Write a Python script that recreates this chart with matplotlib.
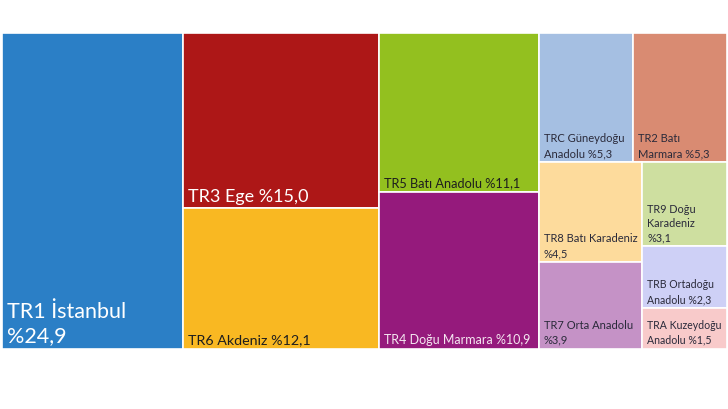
import matplotlib
matplotlib.use("Agg")
import matplotlib.pyplot as plt
from matplotlib.patches import Rectangle

# ---- data ----
regions = ["TR1 İstanbul", "TR3 Ege", "TR6 Akdeniz", "TR5 Batı Anadolu",
           "TR4 Doğu Marmara", "TRC Güneydoğu Anadolu", "TR2 Batı Marmara",
           "TR8 Batı Karadeniz", "TR7 Orta Anadolu", "TR9 Doğu Karadeniz",
           "TRB Ortadoğu Anadolu", "TRA Kuzeydoğu Anadolu"]
shares = [24.9, 15.0, 12.1, 11.1, 10.9, 5.3, 5.3, 4.5, 3.9, 3.1, 2.3, 1.5]
labels = ["TR1 İstanbul\n%24,9", "TR3 Ege %15,0", "TR6 Akdeniz %12,1",
          "TR5 Batı Anadolu %11,1", "TR4 Doğu Marmara %10,9",
          "TRC Güneydoğu\nAnadolu %5,3", "TR2 Batı\nMarmara %5,3",
          "TR8 Batı Karadeniz\n%4,5", "TR7 Orta Anadolu\n%3,9",
          "TR9 Doğu\nKaradeniz\n%3,1", "TRB Ortadoğu\nAnadolu %2,3",
          "TRA Kuzeydoğu\nAnadolu %1,5"]
colors = ["#2B7FC6", "#AD1717", "#F9B822", "#93C01F", "#951A7C",
          "#A5BFE2", "#D98B72", "#FDDB9C", "#C592C6", "#CEDFA0",
          "#CED0F6", "#F8CACA"]
text_colors = ["white", "white", "#1e1e1e", "#1e1e1e", "#f4e6f0",
               "#2a2a3a", "#2a2a3a", "#2a2a3a", "#2a2a3a", "#2a2a3a",
               "#2a2a3a", "#2a2a3a"]
font_sizes = [15.5, 13, 10.3, 9.2, 9.0, 8, 8, 8, 8, 7.8, 7.6, 7.6]
line_spacing = [1.25, 1.2, 1.2, 1.2, 1.2, 1.45, 1.45, 1.45, 1.45, 1.35, 1.45, 1.45]


# ---- squarified treemap layout ----
def worst(row, w):
    s = sum(row)
    return max(max(w * w * r / (s * s), s * s / (w * w * r)) for r in row)


def layout_row(row, x, y, dx, dy):
    s = sum(row)
    rects = []
    if dx >= dy:  # vertical column on left
        width = s / dy
        cy = y
        for r in row:
            h = r / width
            rects.append((x, cy, width, h))
            cy += h
        return rects, (x + width, y, dx - width, dy)
    else:  # horizontal row on top
        height = s / dx
        cx = x
        for r in row:
            w = r / height
            rects.append((cx, y, w, height))
            cx += w
        return rects, (x, y + height, dx, dy - height)


def squarify(areas, x, y, dx, dy):
    rects = []
    areas = list(areas)
    while areas:
        side = min(dx, dy)
        row = [areas.pop(0)]
        while areas and worst(row + [areas[0]], side) <= worst(row, side):
            row.append(areas.pop(0))
        r, (x, y, dx, dy) = layout_row(row, x, y, dx, dy)
        rects.extend(r)
    return rects


W, H = 725.0, 316.0
total = sum(shares)
areas = [v / total * W * H for v in shares]
rects = squarify(areas, 0, 0, W, H)

fig = plt.figure(figsize=(7.28, 4.10), dpi=100)
ax = fig.add_axes([2 / 728, 60 / 410, W / 728, H / 410])
ax.set_xlim(0, W)
ax.set_ylim(H, 0)
ax.axis("off")

for (rx, ry, rw, rh), c, lab, tc, fs, ls in zip(rects, colors, labels, text_colors,
                                                font_sizes, line_spacing):
    ax.add_patch(Rectangle((rx, ry), rw, rh, facecolor=c, edgecolor="white", linewidth=1.2))
    ax.annotate(lab, xy=(rx, ry + rh), xytext=(3.5, 3), textcoords="offset points",
                ha="left", va="bottom", color=tc, fontsize=fs,
                family=["Lato", "DejaVu Sans"], linespacing=ls)

fig.savefig("out.png", dpi=100, facecolor="white")
